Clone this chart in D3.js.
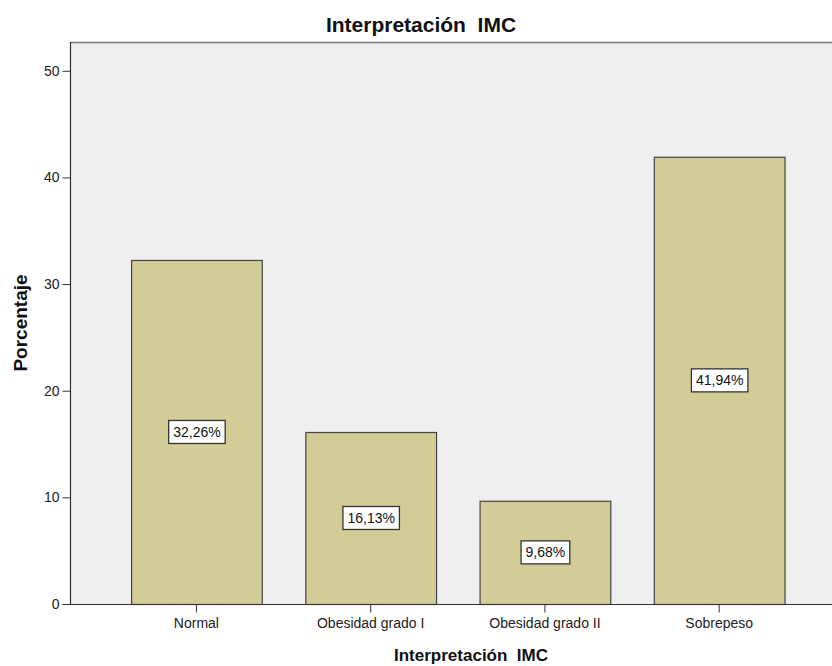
<!DOCTYPE html>
<html>
<head>
<meta charset="utf-8">
<script src="https://cdn.jsdelivr.net/npm/d3@7"></script>
<style>
  html, body { margin: 0; padding: 0; background: #fff; }
  svg { display: block; font-family: Arial, "Liberation Sans", sans-serif; }
</style>
</head>
<body>
<svg id="chart" width="832" height="666"></svg>
<script>
// Distribución porcentual según interpretación del IMC
const categories = ["Normal", "Obesidad grado I", "Obesidad grado II", "Sobrepeso"];
const percentages = [32.26, 16.13, 9.68, 41.94];
const valueLabels = ["32,26%", "16,13%", "9,68%", "41,94%"];
const yTicks = [0, 10, 20, 30, 40, 50];

const FONT = "Arial, 'Liberation Sans', sans-serif";
const svg = d3.select("#chart");
const plot = { left: 70, top: 42, right: 872, bottom: 604 };

const x = d3.scaleBand()
  .domain(categories)
  .range([109.3, 806.3])
  .paddingInner(0.25)
  .paddingOuter(0.125);

const y = d3.scaleLinear()
  .domain([0, 52.7])
  .range([plot.bottom, plot.top]);

// plot background and frame
svg.append("rect")
  .attr("x", plot.left).attr("y", plot.top)
  .attr("width", plot.right - plot.left).attr("height", plot.bottom - plot.top)
  .attr("fill", "#efefef");
svg.append("line")
  .attr("x1", plot.left).attr("x2", plot.right)
  .attr("y1", plot.top + 0.5).attr("y2", plot.top + 0.5)
  .attr("stroke", "#7a7a7a").attr("stroke-width", 1.5);

// bars
svg.append("g").selectAll("rect")
  .data(categories)
  .join("rect")
  .attr("x", d => x(d) + 0.5)
  .attr("y", (d, i) => y(percentages[i]) + 0.5)
  .attr("width", x.bandwidth())
  .attr("height", (d, i) => y(0) - y(percentages[i]))
  .attr("fill", "#d2cd96")
  .attr("stroke", "#444")
  .attr("stroke-width", 1.2);

// y axis
const yAxis = svg.append("g")
  .attr("transform", `translate(${plot.left + 0.5},0)`)
  .call(d3.axisLeft(y).tickValues(yTicks).tickSize(8).tickPadding(3).tickFormat(d3.format("d")));
yAxis.select(".domain").attr("stroke", "#333").attr("stroke-width", 1.2)
  .attr("d", `M0,${plot.top}V${plot.bottom}`);
yAxis.selectAll(".tick line").attr("stroke", "#333");
yAxis.selectAll(".tick text").attr("font-size", 14).attr("fill", "#222")
  .attr("font-family", FONT);

// x axis
const xAxis = svg.append("g")
  .attr("transform", `translate(0,${plot.bottom + 0.5})`)
  .call(d3.axisBottom(x).tickSize(8).tickPadding(6).tickSizeOuter(0));
xAxis.select(".domain").attr("stroke", "#333").attr("stroke-width", 1.2)
  .attr("d", `M${plot.left},0H${plot.right}`);
xAxis.selectAll(".tick line").attr("stroke", "#333");
xAxis.selectAll(".tick text").attr("font-size", 14).attr("fill", "#222")
  .attr("font-family", FONT);

// value labels in boxes, centred at half bar height
const labels = svg.append("g").selectAll("g")
  .data(categories)
  .join("g")
  .attr("transform", (d, i) => `translate(${x(d) + x.bandwidth() / 2 + 0.5},${y(percentages[i] / 2)})`);
labels.append("text")
  .attr("text-anchor", "middle")
  .attr("dy", "0.36em")
  .attr("font-size", 14)
  .attr("fill", "#111")
  .text((d, i) => valueLabels[i]);
labels.each(function () {
  const g = d3.select(this);
  const bb = g.select("text").node().getBBox();
  g.insert("rect", "text")
    .attr("x", bb.x - 4.5).attr("y", -11.5)
    .attr("width", bb.width + 9).attr("height", 23)
    .attr("fill", "#fff").attr("stroke", "#333").attr("stroke-width", 1.3);
});

// titles
svg.append("text")
  .attr("x", 421).attr("y", 32)
  .attr("text-anchor", "middle")
  .attr("font-size", 21).attr("font-weight", "bold").attr("fill", "#111")
  .style("white-space", "pre")
  .text("Interpretación  IMC");
svg.append("text")
  .attr("x", 471).attr("y", 661)
  .attr("text-anchor", "middle")
  .attr("font-size", 17).attr("font-weight", "bold").attr("fill", "#111")
  .style("white-space", "pre")
  .text("Interpretación  IMC");
svg.append("text")
  .attr("transform", `translate(27,${(plot.top + plot.bottom) / 2}) rotate(-90)`)
  .attr("text-anchor", "middle")
  .attr("font-size", 19).attr("font-weight", "bold").attr("fill", "#111")
  .text("Porcentaje");
</script>
</body>
</html>
